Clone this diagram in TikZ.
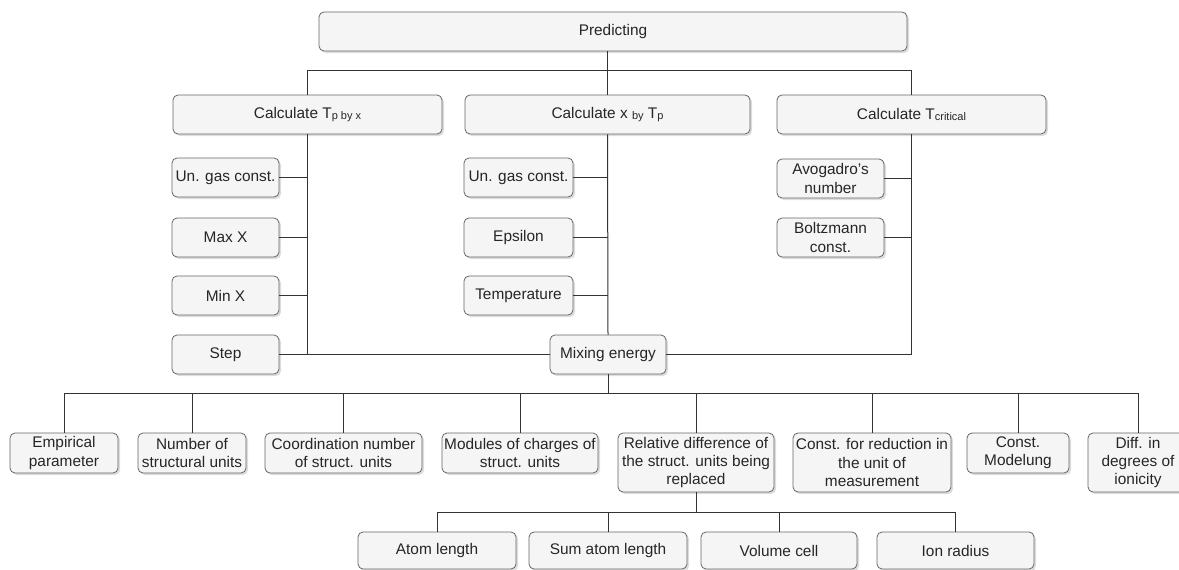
\documentclass[tikz,border=0pt]{standalone}
\usepackage{fontspec}
\setmainfont{Liberation Sans}
\usetikzlibrary{shadows}
\definecolor{boxfill}{HTML}{F5F5F5}
\definecolor{boxline}{HTML}{666666}
\definecolor{wire}{HTML}{333333}
\newcommand{\lowtext}[1]{\raisebox{-1.2pt}{\fontsize{11}{12}\selectfont #1}}
\tikzset{
	card/.style={draw=boxline, fill=boxfill, rounded corners=5pt, align=center,
		inner sep=1pt, line width=0.8pt, text=black!85,
		font=\fontsize{15.4}{18.3}\selectfont,
		drop shadow={shadow xshift=2pt, shadow yshift=-2pt, fill=black!22, opacity=0.6}},
	link/.style={draw=wire, line width=1pt}
}
\begin{document}
\begin{tikzpicture}[x=1pt, y=-1pt]
					\useasboundingbox (0,0) rectangle (1179,570);
					
					% Top level
					\node[card, minimum width=588pt, minimum height=39pt] (pred) at (613,31.5) {Predicting};
					\node[card, minimum width=269pt, minimum height=39pt] (calcT) at (307.5,114.5) {Calculate T\lowtext{p by x}};
					\node[card, minimum width=285pt, minimum height=39pt] (calcX) at (607.5,114.5) {Calculate x \lowtext{by} T\lowtext{p}};
					\node[card, minimum width=269pt, minimum height=39pt] (calcC) at (911.5,114.5) {Calculate T\lowtext{critical}};
					\coordinate (bus1) at (607.5,70);
					
					% Column 1
					\node[card, minimum width=107pt, minimum height=39pt] (gasT) at (225.5,177.5) {Un. gas const.};
					\node[card, minimum width=107pt, minimum height=39pt] (maxX) at (225.5,237.5) {Max X};
					\node[card, minimum width=107pt, minimum height=39pt] (minX) at (225.5,295.5) {Min X};
					\node[card, minimum width=107pt, minimum height=39pt] (stepX) at (225.5,354.5) {Step};
					
					% Column 2
					\node[card, minimum width=109pt, minimum height=39pt] (gasX) at (518.5,177.5) {Un. gas const.};
					\node[card, minimum width=109pt, minimum height=39pt] (eps) at (518.5,237.5) {Epsilon};
					\node[card, minimum width=109pt, minimum height=39pt] (temp) at (518.5,295.5) {Temperature};
					\node[card, minimum width=116pt, minimum height=39pt] (mix) at (608,354.5) {Mixing energy};
					
					% Column 3
					\node[card, minimum width=107pt, minimum height=39pt] (avo) at (830.5,178.5) {Avogadro's\\number};
					\node[card, minimum width=107pt, minimum height=39pt] (boltz) at (830.5,237.5) {Boltzmann\\const.};
					
					% Mixing energy parts
					\coordinate (bus2) at (608,393);
					\node[card, minimum width=108pt, minimum height=40pt] (emp) at (64,453) {Empirical\\parameter};
					\node[card, minimum width=108pt, minimum height=40pt] (num) at (192,453) {Number of\\structural units};
					\node[card, minimum width=157pt, minimum height=40pt] (coord) at (343.5,453) {Coordination number\\of struct. units};
					\node[card, minimum width=156pt, minimum height=40pt] (modch) at (520,453) {Modules of charges of\\struct. units};
					\node[card, minimum width=156pt, minimum height=59pt] (rel) at (696,462.5) {Relative difference of\\the struct. units being\\replaced};
					\node[card, minimum width=158pt, minimum height=59pt] (redc) at (872,462.5) {Const. for reduction in\\the unit of\\measurement};
					\node[card, minimum width=102pt, minimum height=40pt] (madl) at (1018,453) {Const.\\Modelung};
					\node[card, minimum width=100pt, minimum height=59pt] (ion) at (1138,462.5) {Diff. in\\degrees of\\ionicity};
					
					% Relative difference parts
					\coordinate (bus3) at (696,512);
					\node[card, minimum width=158pt, minimum height=37pt] (atom) at (437,550.5) {Atom length};
					\node[card, minimum width=158pt, minimum height=37pt] (sumat) at (608,550.5) {Sum atom length};
					\node[card, minimum width=156pt, minimum height=37pt] (vol) at (779,550.5) {Volume cell};
					\node[card, minimum width=157pt, minimum height=37pt] (irad) at (955.5,550.5) {Ion radius};
					
					% Connectors
					\draw[link] (pred.south -| bus1) -- (calcX.north);
					\draw[link] (calcT.north) -- (calcT.north |- bus1) -- (calcC.north |- bus1) -- (calcC.north);
					\draw[link] (calcT.south) -- (calcT.south |- mix.west) -- (stepX.east);
					\draw[link] (calcT.south |- mix.west) -- (mix.west);
					\draw[link] (calcX.south) -- (mix.north);
					\draw[link] (calcC.south) |- (mix.east);
					\foreach \n in {gasT,maxX,minX}
						\draw[link] (\n.east) -- (\n.east -| calcT.south);
					\foreach \n in {gasX,eps,temp}
						\draw[link] (\n.east) -- (\n.east -| calcX.south);
					\foreach \n in {avo,boltz}
						\draw[link] (\n.east) -- (\n.east -| calcC.south);
					\draw[link] (mix.south) -- (bus2);
					\draw[link] (emp.north) -- (emp.north |- bus2) -- (ion.north |- bus2) -- (ion.north);
					\foreach \n in {num,coord,modch,rel,redc,madl}
						\draw[link] (\n.north) -- (\n.north |- bus2);
					\draw[link] (rel.south) -- (bus3);
					\draw[link] (atom.north) -- (atom.north |- bus3) -- (irad.north |- bus3) -- (irad.north);
					\foreach \n in {sumat,vol}
						\draw[link] (\n.north) -- (\n.north |- bus3);
				\end{tikzpicture}
\end{document}
